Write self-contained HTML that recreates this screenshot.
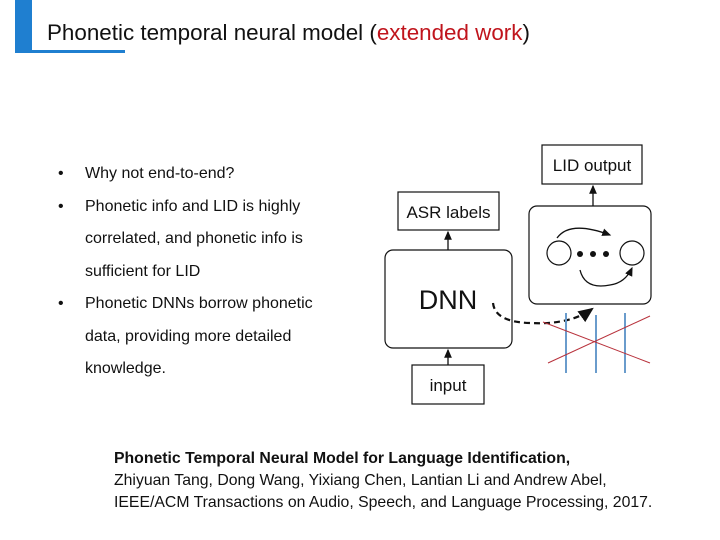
<!DOCTYPE html>
<html><head><style>
body{margin:0;width:720px;height:540px;background:#fff;position:relative;overflow:hidden;font-family:"Liberation Sans",sans-serif}
.t{position:absolute;white-space:nowrap}
</style></head><body>
<div style="position:absolute;left:15px;top:0;width:17px;height:52px;background:#1f7fd0"></div>
<div style="position:absolute;left:15px;top:50px;width:110px;height:3px;background:#1f7fd0"></div>
<div class="t" style="left:47px;top:20px;font-size:22.4px;color:#111">Phonetic temporal neural model (<span style="color:#c0141c">extended work</span>)</div>
<div class="t" style="left:58px;top:158px;font-size:16px;line-height:32.5px;color:#111">
<div>•<span style="position:absolute;left:27px">Why not end-to-end?</span></div>
<div>•<span style="position:absolute;left:27px">Phonetic info and LID is highly</span></div>
<div><span style="position:absolute;left:27px">correlated, and phonetic info is</span>&nbsp;</div>
<div><span style="position:absolute;left:27px">sufficient for LID</span>&nbsp;</div>
<div>•<span style="position:absolute;left:27px">Phonetic DNNs borrow phonetic</span></div>
<div><span style="position:absolute;left:27px">data, providing more detailed</span>&nbsp;</div>
<div><span style="position:absolute;left:27px">knowledge.</span>&nbsp;</div>
</div>
<svg width="720" height="540" style="position:absolute;left:0;top:0" font-family="Liberation Sans, sans-serif">
<defs><marker id="a" markerWidth="8" markerHeight="8" refX="6" refY="4" orient="auto"><path d="M0,1 L7,4 L0,7z" fill="#111"/></marker></defs>
<g stroke="#111" stroke-width="1.2" fill="#fff">
<rect x="398" y="192" width="101" height="38"/>
<rect x="385" y="250" width="127" height="98" rx="8"/>
<rect x="412" y="365" width="72" height="39"/>
<rect x="542" y="145" width="100" height="39"/>
<rect x="529" y="206" width="122" height="98" rx="8"/>
<circle cx="559" cy="253" r="12"/><circle cx="632" cy="253" r="12"/>
</g>
<g stroke="#111" stroke-width="1.3" fill="none">
<line x1="448" y1="250" x2="448" y2="232" marker-end="url(#a)"/>
<line x1="448" y1="365" x2="448" y2="350" marker-end="url(#a)"/>
<line x1="593" y1="206" x2="593" y2="186" marker-end="url(#a)"/>
<path d="M557,238 Q570,220 610,235" marker-end="url(#a)"/>
<path d="M580,270 Q585,290 610,285 Q625,283 632,268" marker-end="url(#a)"/>
<path d="M493,303 Q495,322 530,323 Q570,325 592,309" stroke-width="2.2" stroke-dasharray="6,4" marker-end="url(#a)"/>
</g>
<g fill="#111"><circle cx="580" cy="254" r="3"/><circle cx="593" cy="254" r="3"/><circle cx="606" cy="254" r="3"/></g>
<g stroke="#6a9ccc" stroke-width="2"><line x1="566" y1="313" x2="566" y2="373"/><line x1="596" y1="315" x2="596" y2="373"/><line x1="625" y1="313" x2="625" y2="373"/></g>
<g stroke="#b8323c" stroke-width="1"><line x1="548" y1="363" x2="650" y2="316"/><line x1="543" y1="322" x2="650" y2="363"/></g>
<g font-size="17" fill="#111"><text x="448.5" y="218" text-anchor="middle">ASR labels</text>
<text x="592" y="171" text-anchor="middle">LID output</text>
<text x="448" y="391" text-anchor="middle">input</text>
<text x="448" y="309" text-anchor="middle" font-size="27">DNN</text></g>
</svg>
<div class="t" style="left:114px;top:448px;font-size:15.8px;line-height:22px;color:#111">
<b>Phonetic Temporal Neural Model for Language Identification,</b><br>Zhiyuan Tang, Dong Wang, Yixiang Chen, Lantian Li and Andrew Abel,<br>IEEE/ACM Transactions on Audio, Speech, and Language Processing, 2017.</div>
</body></html>
